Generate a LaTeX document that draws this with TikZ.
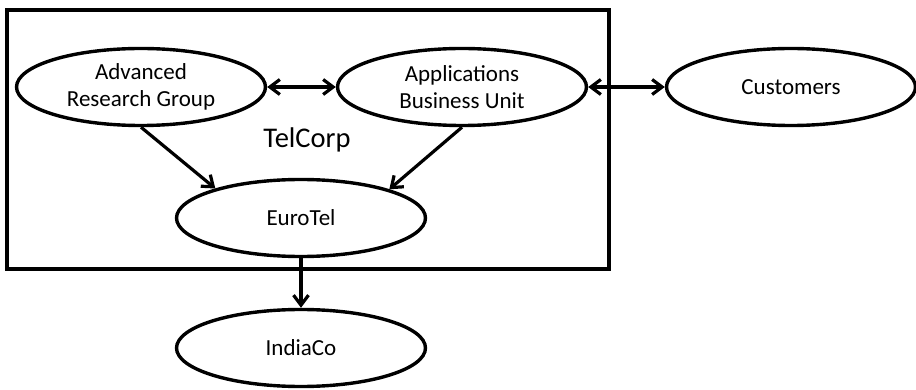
\documentclass[tikz,border=0pt]{standalone}
\usepackage{fontspec}
\setmainfont{Carlito}
\usetikzlibrary{shapes.geometric,arrows.meta}
\begin{document}
\begin{tikzpicture}[x=1pt,y=1pt,
  unit/.style={ellipse,draw,line width=3.4pt,inner sep=0pt,
    minimum width=249pt,minimum height=77pt,align=center,
    font=\fontsize{23}{27}\selectfont},
  barb/.tip={Straight Barb[length=10pt,width=15pt,line width=3.2pt]},
  link/.style={line width=3.2pt,-barb},
  dlink/.style={line width=3.2pt,barb-barb}]
  \useasboundingbox (0,0) rectangle (916,-390);
  % company boundary
  \node[draw,line width=3.6pt,inner sep=0pt,minimum width=602pt,minimum height=259pt,anchor=north west] (box) at (5,-8) {};
  \node[font=\fontsize{28.5}{34}\selectfont,anchor=base] (telcorp) at (307,-148) {TelCorp};
  % units
  \node[unit] (arg) at (141,-87) {Advanced\\Research Group};
  \node[unit] (abu) at (462,-87) {Applications\\Business Unit};
  \node[unit] (cust) at (791,-87) {Customers};
  \node[unit] (eur) at (301,-218) {EuroTel};
  \node[unit] (ind) at (301,-348) {IndiaCo};
  % relations
  \draw[dlink] (arg) -- (abu);
  \draw[dlink] (abu) -- (cust);
  \draw[link] (arg.south) -- (eur.161);
  \draw[link] (abu.south) -- (eur.18);
  \draw[link] (eur) -- (ind);
\end{tikzpicture}
\end{document}
